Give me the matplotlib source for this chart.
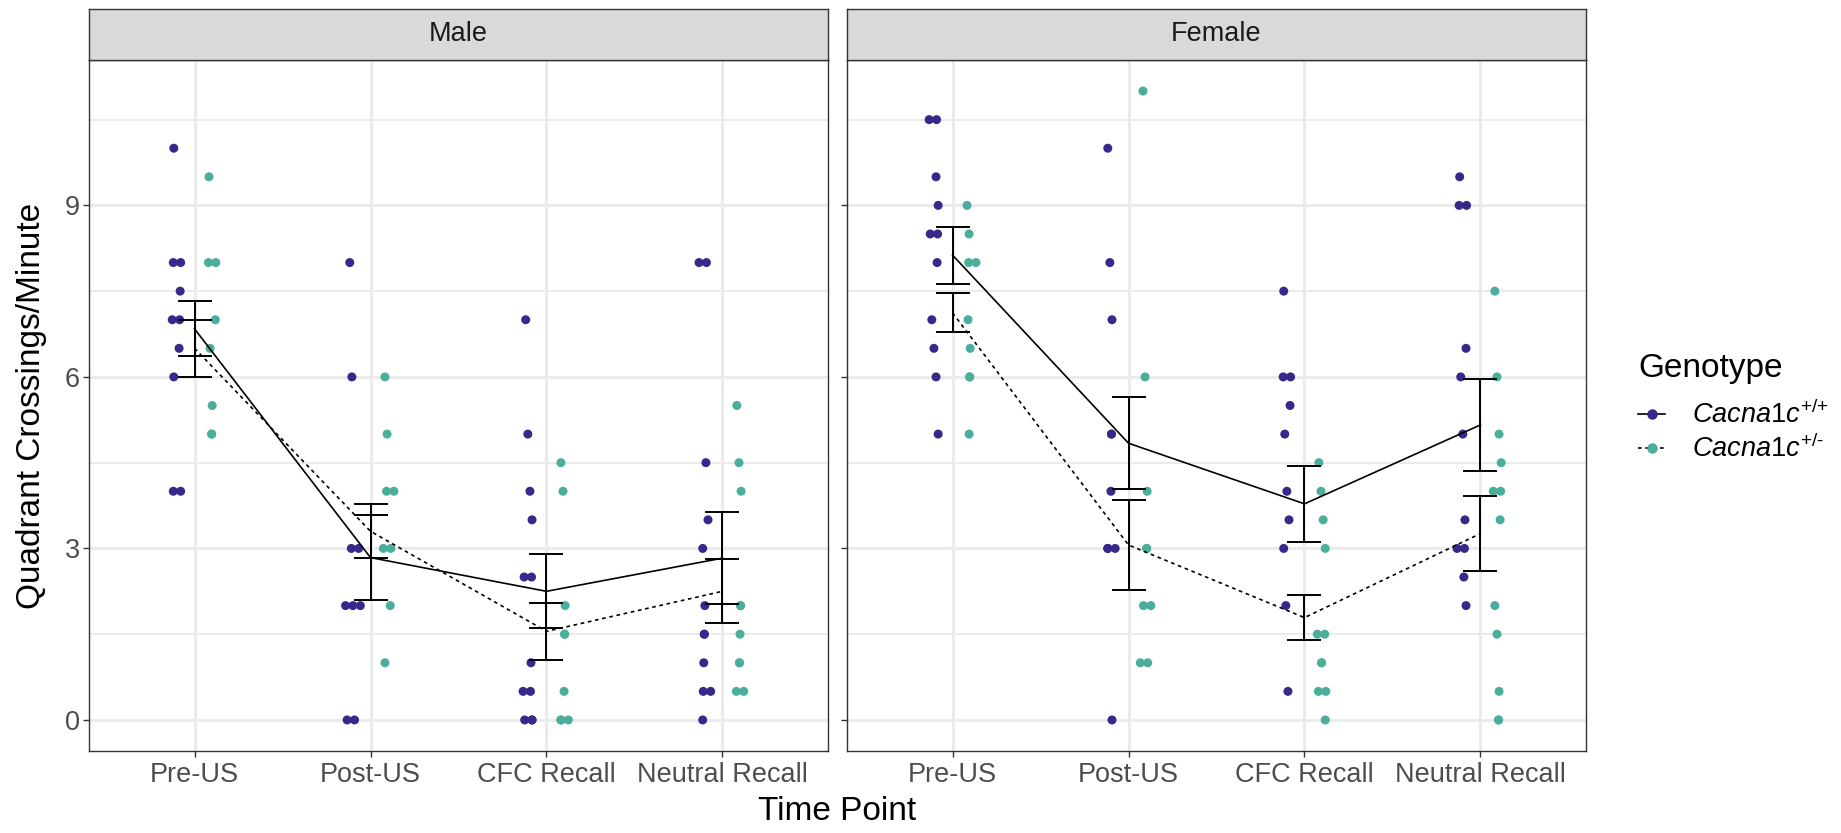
import numpy as np
import matplotlib
matplotlib.use("Agg")
import matplotlib.pyplot as plt
from matplotlib.lines import Line2D

plt.rcParams['font.family'] = ['Liberation Sans', 'DejaVu Sans']
plt.rcParams['mathtext.fontset'] = 'custom'
plt.rcParams['mathtext.it'] = 'Liberation Sans:italic'
plt.rcParams['mathtext.rm'] = 'Liberation Sans'

# ---------------- data ----------------
time_points = ["Pre-US", "Post-US", "CFC Recall", "Neutral Recall"]
sexes = ["Male", "Female"]
y_ticks = [0, 3, 6, 9]

male_wt = [
    [10, 8, 8, 7.5, 7, 7, 6.5, 6, 4, 4],
    [8, 6, 3, 3, 2, 2, 2, 0, 0],
    [7, 5, 4, 3.5, 2.5, 2.5, 1, 0.5, 0.5, 0, 0, 0],
    [8, 8, 4.5, 3.5, 3, 2, 1.5, 1.5, 1, 0.5, 0.5, 0],
]
male_het = [
    [9.5, 8, 8, 7, 6.5, 5.5, 5, 5],
    [6, 5, 4, 4, 3, 3, 2, 1],
    [4.5, 4, 2, 1.5, 1.5, 0.5, 0, 0, 0],
    [5.5, 4.5, 4, 2, 2, 1.5, 1, 1, 0.5, 0.5],
]
female_wt = [
    [10.5, 10.5, 9.5, 9, 8.5, 8.5, 8, 7, 6.5, 6, 5],
    [10, 8, 7, 5, 5, 4, 3, 3, 3, 0],
    [7.5, 6, 6, 5.5, 5, 4, 3.5, 3, 2, 0.5],
    [9.5, 9, 9, 6.5, 6, 5, 3.5, 3, 3, 2.5, 2],
]
female_het = [
    [9, 8.5, 8, 8, 7, 6.5, 6, 6, 5],
    [11, 6, 4, 3, 3, 2, 2, 1, 1],
    [4.5, 4, 3.5, 3, 1.5, 1.5, 1, 1, 0.5, 0.5, 0],
    [7.5, 6, 5, 4.5, 4, 4, 3.5, 2, 1.5, 0.5, 0, 0],
]

male_wt_mean = [6.84, 2.84, 2.25, 2.83]
male_wt_se = [0.48, 0.75, 0.65, 0.80]
male_het_mean = [6.50, 3.30, 1.55, 2.25]
male_het_se = [0.50, 0.47, 0.50, 0.56]
female_wt_mean = [8.13, 4.84, 3.78, 5.16]
female_wt_se = [0.50, 0.80, 0.66, 0.80]
female_het_mean = [7.12, 3.06, 1.79, 3.26]
female_het_se = [0.34, 0.78, 0.40, 0.65]

wt_label = r"$\mathit{Cacna1c}^{\text{+/+}}$"
het_label = r"$\mathit{Cacna1c}^{\text{+/-}}$"

# ---------------- style ----------------
W, H = 1841, 833
PURPLE = "#37288B"
TEAL = "#4AAE9B"
GRID = "#EBEBEB"
BORDER = "#333333"
BASE = 24
SMALL = 19.5

fig = plt.figure(figsize=(W / 100, H / 100), dpi=100)
fig.patch.set_facecolor("white")

panel_top, panel_bot = 59.6, 751.4
strip_top = 8.5
panels_x = [(89, 828), (847, 1586)]

def px_axes(x0, x1, y0, y1):
    return fig.add_axes([x0 / W, 1 - y1 / H, (x1 - x0) / W, (y1 - y0) / H])

def jitter_positions(vals, base):
    xs = []
    seen = {}
    counts = {v: vals.count(v) for v in vals}
    for i, v in enumerate(vals):
        k = seen.get(v, 0)
        seen[v] = k + 1
        n = counts[v]
        off = (k - (n - 1) / 2) * 0.03
        wob = 0.018 * (((i * 37) % 7) - 3) / 3
        xs.append(base + off + wob)
    return xs

groups = [
    (male_wt, male_het, male_wt_mean, male_wt_se, male_het_mean, male_het_se),
    (female_wt, female_het, female_wt_mean, female_wt_se, female_het_mean, female_het_se),
]

for p, (sex, (x0, x1)) in enumerate(zip(sexes, panels_x)):
    ax = px_axes(x0, x1, panel_top, panel_bot)
    wt, het, wtm, wts, hetm, hets = groups[p]
    xpos = np.arange(1, len(time_points) + 1)
    ax.set_xlim(0.4, 4.6)
    ax.set_ylim(-0.55, 11.55)
    # grid
    for yv in [1.5, 4.5, 7.5, 10.5]:
        ax.axhline(yv, color=GRID, lw=1.4, zorder=0)
    for yv in y_ticks:
        ax.axhline(yv, color=GRID, lw=2.2, zorder=0)
    for xv in xpos:
        ax.axvline(xv, color=GRID, lw=2.2, zorder=0)
    # points
    for i in range(len(time_points)):
        ax.scatter(jitter_positions(wt[i], xpos[i] - 0.1), wt[i], s=42,
                   color=PURPLE, edgecolors="none", zorder=2)
        ax.scatter(jitter_positions(het[i], xpos[i] + 0.1), het[i], s=42,
                   color=TEAL, edgecolors="none", zorder=2)
    # mean lines
    ax.plot(xpos, wtm, color="black", lw=1.2, ls="-", zorder=3)
    ax.plot(xpos, hetm, color="black", lw=1.2, ls=(0, (2.2, 2.2)), zorder=3)
    # error bars
    ax.errorbar(xpos, wtm, yerr=wts, fmt="none", ecolor="black",
                elinewidth=1.4, capsize=12.5, capthick=1.4, zorder=4)
    ax.errorbar(xpos, hetm, yerr=hets, fmt="none", ecolor="black",
                elinewidth=1.4, capsize=12.5, capthick=1.4, zorder=4)
    ax.set_xticks(xpos)
    ax.set_xticklabels(time_points)
    ax.set_yticks(y_ticks)
    if p == 0:
        ax.set_yticklabels([str(v) for v in y_ticks])
    else:
        ax.set_yticklabels([])
    ax.tick_params(axis="both", colors=BORDER, labelcolor="#4D4D4D",
                   labelsize=SMALL, length=4, width=1.0)
    ax.tick_params(axis="x", pad=3.5)
    ax.tick_params(axis="y", pad=2.5)
    for s in ax.spines.values():
        s.set_color(BORDER)
        s.set_linewidth(1.0)
    ax.set_facecolor("white")
    # strip
    sax = px_axes(x0, x1, strip_top, panel_top)
    sax.set_facecolor("#D9D9D9")
    sax.set_xticks([])
    sax.set_yticks([])
    for s in sax.spines.values():
        s.set_color(BORDER)
        s.set_linewidth(1.0)
    sax.text(0.5, 0.5, sex, ha="center", va="center", fontsize=SMALL,
             color="#1A1A1A", transform=sax.transAxes)

fig.text(32 / W, 1 - 405.5 / H, "Quadrant Crossings/Minute", rotation=90,
         ha="center", va="center", fontsize=BASE, color="black")
fig.text(837.5 / W, 1 - 812 / H, "Time Point", ha="center", va="center",
         fontsize=BASE, color="black")

handles = [
    Line2D([], [], color="black", ls="-", lw=1.2, marker="o", markersize=6.5,
           markerfacecolor=PURPLE, markeredgecolor=PURPLE),
    Line2D([], [], color="black", ls=(0, (2.2, 2.2)), lw=1.2, marker="o",
           markersize=6.5, markerfacecolor=TEAL, markeredgecolor=TEAL),
]
leg = fig.legend(handles, [wt_label, het_label], title="Genotype",
                 loc="upper left", bbox_to_anchor=(1638 / W, 1 - 353 / H),
                 frameon=False, fontsize=SMALL, title_fontsize=BASE,
                 handlelength=1.0, handletextpad=1.0, labelspacing=0.2,
                 borderaxespad=0, borderpad=0)
leg._legend_box.align = "left"
leg._legend_box.sep = 12

fig.savefig("out.png", dpi=100, facecolor="white")
